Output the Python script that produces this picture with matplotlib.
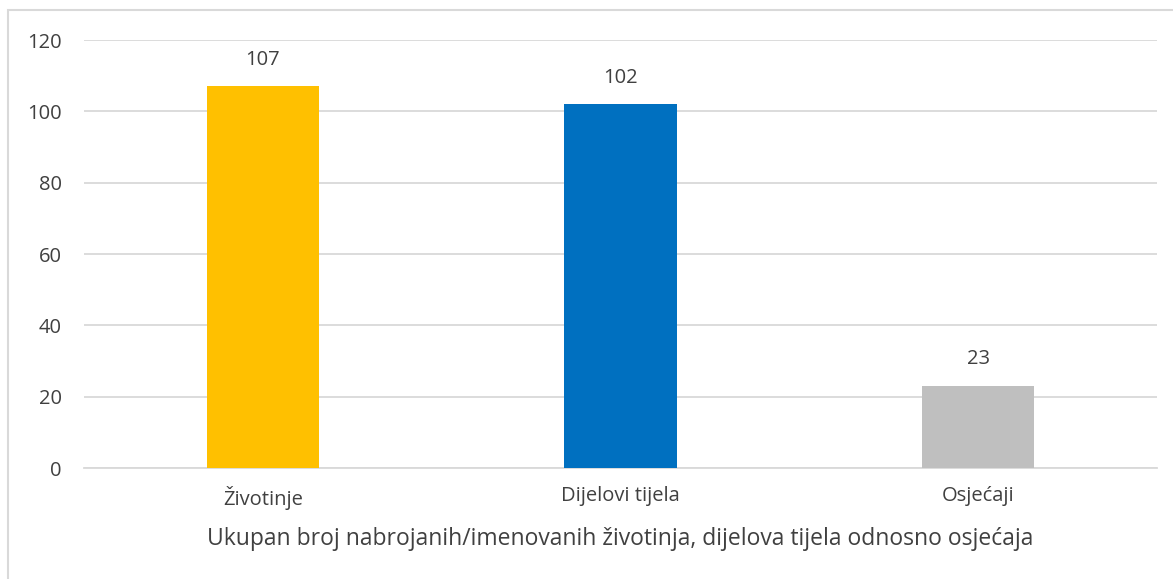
import numpy as np
import matplotlib.pyplot as plt
from matplotlib.patches import Rectangle

# Podaci
kategorije = ["Životinje", "Dijelovi tijela", "Osjećaji"]
vrijednosti = [107, 102, 23]
boje = ["#FFC000", "#0070C0", "#BFBFBF"]
naslov_x = "Ukupan broj nabrojanih/imenovanih životinja, dijelova tijela odnosno osjećaja"

plt.rcParams["font.family"] = ["Open Sans", "DejaVu Sans"]
tekst = "#404040"

fig = plt.figure(figsize=(11.73, 5.79), dpi=100)
ax = fig.add_axes([84 / 1173, 1 - 468 / 579, (1157 - 84) / 1173, (468 - 40) / 579])

# okvir grafikona
fig.patches.append(Rectangle((8 / 1173, -0.1), 1.2, (1 - 10 / 579) + 0.1,
                             transform=fig.transFigure, fill=False,
                             edgecolor="#D9D9D9", linewidth=1.5, zorder=0))

x = np.arange(len(kategorije))
stupci = ax.bar(x, vrijednosti, width=0.315, color=boje, zorder=3)
for s, v in zip(stupci, vrijednosti):
    ax.annotate(str(v), (s.get_x() + s.get_width() / 2, v), xytext=(0, 12),
                textcoords="offset points", ha="center", va="bottom",
                fontsize=14.5, color=tekst)

ax.set_xlim(-0.5, len(kategorije) - 0.5)
ax.set_ylim(0, 120)
ax.set_yticks(range(0, 121, 20))
ax.set_xticks(x)
ax.set_xticklabels(kategorije)
ax.yaxis.grid(True, color="#D9D9D9", linewidth=1.3, zorder=0)
ax.set_axisbelow(True)
for sp in ["top", "right", "left"]:
    ax.spines[sp].set_visible(False)
ax.spines["bottom"].set_color("#D9D9D9")
ax.spines["bottom"].set_linewidth(1.3)
ax.tick_params(axis="both", length=0, labelsize=14.5, colors=tekst)
ax.tick_params(axis="y", pad=16)
ax.tick_params(axis="x", pad=13)
ax.set_xlabel(naslov_x, fontsize=16.5, color=tekst, labelpad=12)

fig.savefig("out.png", dpi=100)
